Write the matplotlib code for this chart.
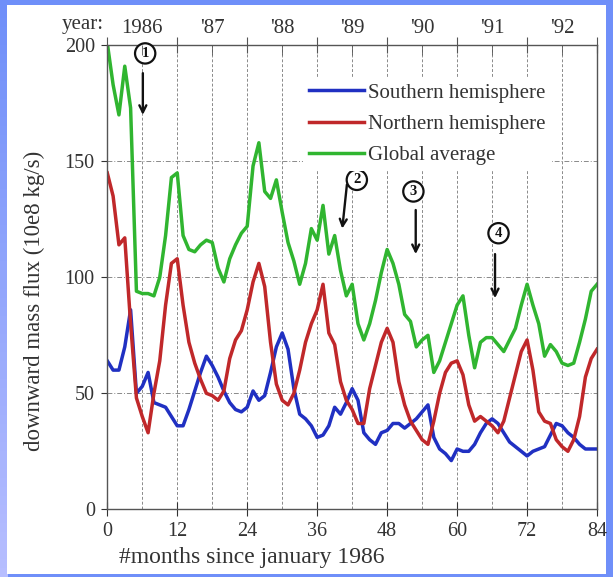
import numpy as np
import matplotlib
matplotlib.use('Agg')
import matplotlib.pyplot as plt
from matplotlib.colors import LinearSegmentedColormap
from matplotlib.patches import Rectangle

plt.rcParams['font.family'] = ['Liberation Serif', 'DejaVu Serif']

# monthly values (month 0 .. 84)
months = np.arange(85)
southern = [64, 60, 60, 70, 86, 50, 53, 59, 46, 45,
            44, 40, 36, 36, 43, 51, 59, 66, 62, 57,
            51, 46, 43, 42, 44, 51, 47, 49, 59, 70,
            76, 69, 52, 41, 39, 36, 31, 32, 36, 44,
            41, 46, 52, 47, 33, 30, 28, 33, 34, 37,
            37, 35, 37, 39, 42, 45, 31, 26, 24, 21,
            26, 25, 25, 28, 33, 37, 39, 37, 33, 29,
            27, 25, 23, 25, 26, 27, 32, 37, 36, 33,
            31, 28, 26, 26, 26]
northern = [145, 135, 114, 117, 80, 48, 40, 33, 50, 64,
            88, 106, 108, 88, 72, 63, 56, 50, 49, 47,
            51, 65, 73, 77, 86, 98, 106, 96, 72, 54,
            47, 45, 50, 60, 72, 80, 86, 97, 76, 71,
            55, 47, 43, 37, 37, 52, 62, 72, 78, 72,
            55, 45, 38, 34, 30, 28, 38, 50, 59, 63,
            64, 58, 45, 38, 40, 38, 36, 33, 38, 48,
            58, 68, 73, 60, 42, 38, 37, 30, 27, 25,
            30, 40, 57, 65, 69]
global_avg = [201, 183, 170, 191, 173, 94, 93, 93, 92, 100,
              118, 143, 145, 118, 112, 111, 114, 116, 115, 104,
              98, 108, 114, 119, 122, 148, 158, 137, 134, 142,
              128, 115, 107, 97, 106, 121, 116, 131, 110, 118,
              103, 92, 97, 80, 73, 80, 90, 102, 112, 106,
              97, 84, 81, 70, 73, 75, 59, 64, 72, 80,
              88, 92, 75, 61, 72, 74, 74, 71, 68, 73,
              78, 88, 97, 88, 80, 66, 71, 68, 63, 62,
              63, 72, 82, 94, 97]
series_names = ['Southern hemisphere', 'Northern hemisphere', 'Global average']
year_labels = ['1986', "'87", "'88", "'89", "'90", "'91", "'92"]
x_ticks = [0, 12, 24, 36, 48, 60, 72, 84]
y_ticks = [0, 50, 100, 150, 200]

fig = plt.figure(figsize=(6.13, 5.77), dpi=100)
fig.patch.set_facecolor('#6f8ff9')

# scanned-slide background: blue frame, lighter left strip, white page
bg = fig.add_axes([0, 0, 1, 1], zorder=-10)
bg.set_xlim(0, 1)
bg.set_ylim(0, 1)
bg.axis('off')
cmap = LinearSegmentedColormap.from_list('edge', ['#b7beff', '#6f8ff9'])
bg.imshow(np.linspace(0, 1, 64)[:, None], cmap=cmap, aspect='auto',
          extent=(0, 7 / 613, 0, 1), origin='lower')
bg.add_patch(Rectangle((7 / 613, 3 / 577), 599 / 613, 569 / 577,
                       facecolor='white', edgecolor='none'))

ax = fig.add_axes([0.175, 0.1173, 0.799, 0.8042])
ax.set_facecolor('none')

ax.plot(months, southern, color='#2030c2', lw=2.5, label=series_names[0])
ax.plot(months, northern, color='#c0282a', lw=2.5, label=series_names[1])
ax.plot(months, global_avg, color='#30b530', lw=2.5, label=series_names[2])

ax.set_xlim(0, 84)
ax.set_ylim(0, 200)
ax.set_xticks(x_ticks)
ax.set_xticks(np.arange(6, 84, 12), minor=True)
ax.set_yticks(y_ticks)
ax.tick_params(axis='x', which='major', direction='inout', length=10,
               labelsize=14.5, colors='#333333', pad=4)
ax.tick_params(axis='x', which='minor', length=0)
ax.tick_params(axis='y', direction='out', length=4, labelsize=14.5,
               colors='#333333', pad=5)
ax.grid(axis='x', which='both', linestyle=(0, (3, 2)), color='#8a8a8a', lw=0.7)
ax.grid(axis='y', which='major', linestyle=(0, (5, 2, 1, 2)), color='#8a8a8a', lw=0.7)
for s in ax.spines.values():
    s.set_color('#555555')
    s.set_linewidth(1.0)

ax.set_ylabel('downward mass flux (10e8 kg/s)', fontsize=16.5, color='#333333')
ax.yaxis.set_label_coords(-0.127, 0.45)
ax.set_xlabel('#months since january 1986', fontsize=17, color='#333333')
ax.xaxis.set_label_coords(0.295, -0.082)

top = ax.twiny()
top.set_xlim(0, 84)
top.set_xticks(x_ticks)
top.set_xticklabels([])
top.set_xticks(np.arange(6, 84, 12), minor=True)
top.set_xticklabels(year_labels, minor=True)
top.tick_params(axis='x', which='major', direction='inout', length=12, color='#555555')
top.tick_params(axis='x', which='minor', direction='in', length=7,
                labelsize=15, labelcolor='#333333', color='#555555', pad=5)
for s in top.spines.values():
    s.set_visible(False)
fig.text(104 / 613, 1 - 29 / 577, 'year:', ha='right', va='baseline',
         fontsize=15, color='#333333')

leg = ax.legend(loc='upper left', bbox_to_anchor=(0.40, 0.932), borderaxespad=0,
                frameon=True, facecolor='white', edgecolor='none', framealpha=1,
                fontsize=15, handlelength=2.6, handletextpad=0.2,
                labelspacing=0.56, borderpad=0.3)
for t in leg.get_texts():
    t.set_color('#333333')

# hand-drawn circled markers with arrows
marks = [('1', (6.5, 196.5), (6.1, 188), (6.1, 170)),
         ('2', (42.8, 142), (41.1, 140), (40.3, 121)),
         ('3', (52.5, 137), (52.9, 129), (52.9, 110)),
         ('4', (67.1, 119), (66.5, 110), (66.5, 91))]
for label, c, start, end in marks:
    ax.text(c[0], c[1], label, ha='center', va='center', fontsize=10.5,
            fontweight='bold', color='#111111', clip_on=False,
            bbox=dict(boxstyle='circle,pad=0.25', fc='white', ec='#111111', lw=1.6))
    ax.annotate('', xy=end, xytext=start,
                arrowprops=dict(arrowstyle='->,head_width=0.25,head_length=0.5',
                                lw=1.7, color='#111111', shrinkA=0, shrinkB=0))

fig.savefig('out.png', dpi=100, facecolor=fig.get_facecolor())
